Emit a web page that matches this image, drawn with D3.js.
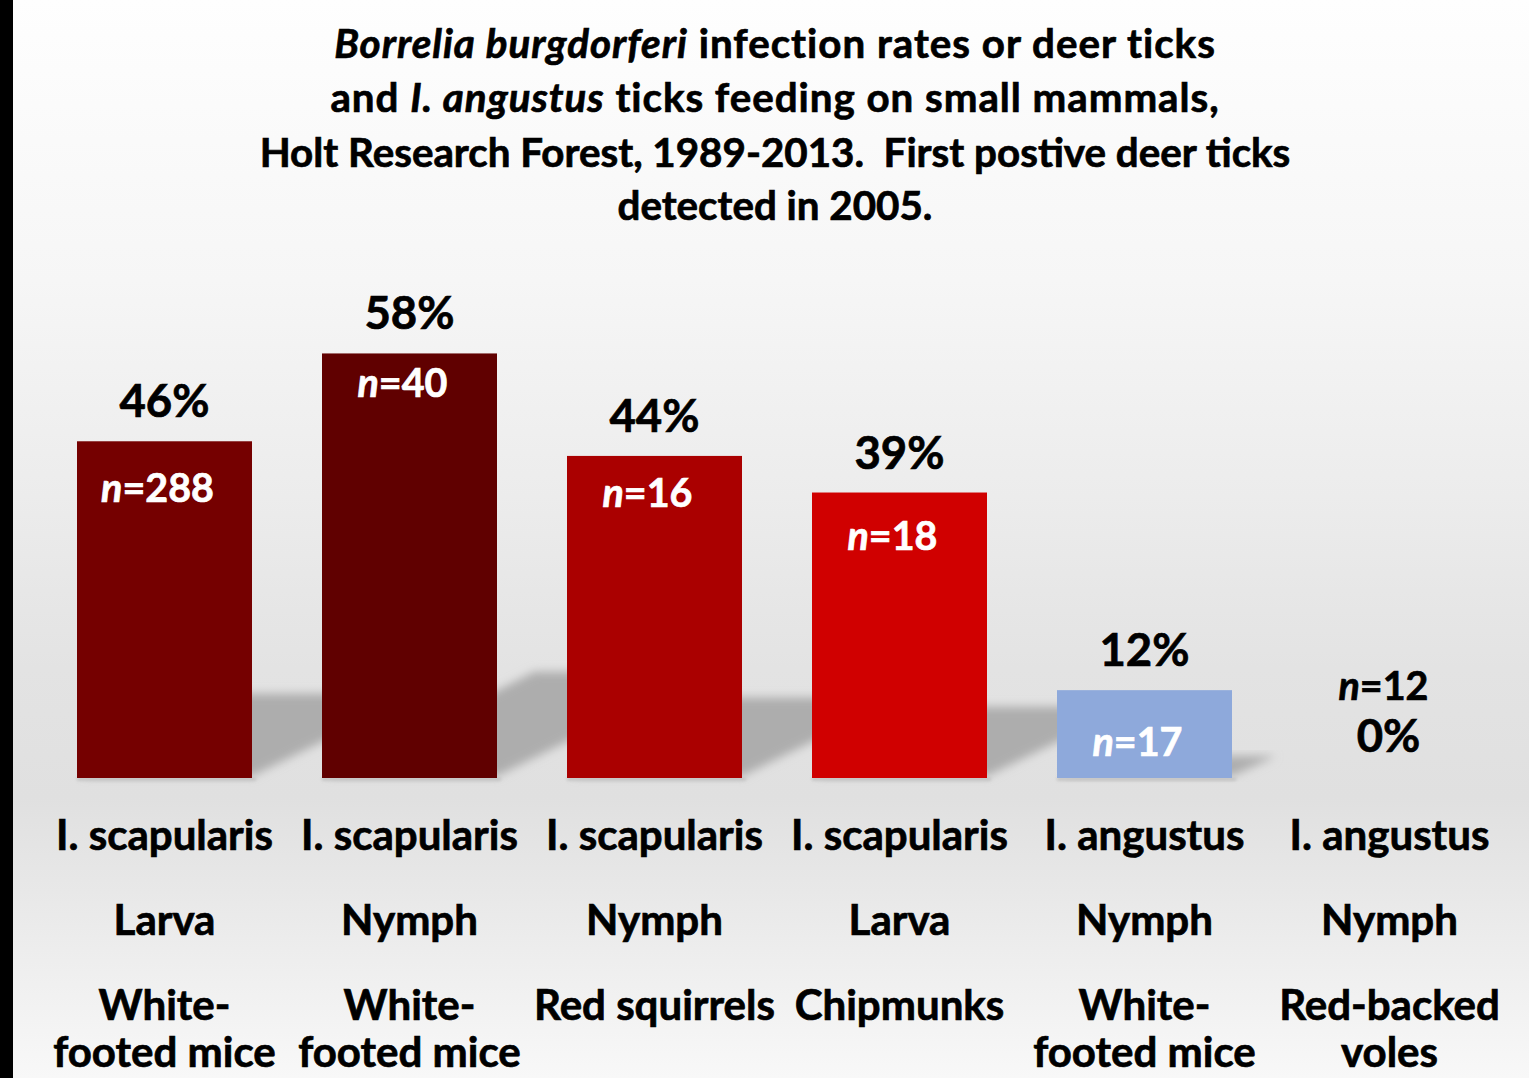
<!DOCTYPE html>
<html>
<head>
<meta charset="utf-8">
<script src="https://cdn.jsdelivr.net/npm/d3@7"></script>
<style>
  html, body { margin: 0; padding: 0; background: #fff; }
  svg { display: block; }
  text { font-family: Lato, "Open Sans", "DejaVu Sans", sans-serif; font-weight: bold; }
</style>
</head>
<body>
<svg id="chart" width="1529" height="1078"></svg>
<script>
// ---- data ----
const categories = ["I. scapularis Larva White-footed mice", "I. scapularis Nymph White-footed mice",
  "I. scapularis Nymph Red squirrels", "I. scapularis Larva Chipmunks",
  "I. angustus Nymph White-footed mice", "I. angustus Nymph Red-backed voles"];
const species = ["I. scapularis", "I. scapularis", "I. scapularis", "I. scapularis", "I. angustus", "I. angustus"];
const stages = ["Larva", "Nymph", "Nymph", "Larva", "Nymph", "Nymph"];
const hostLine1 = ["White-", "White-", "Red squirrels", "Chipmunks", "White-", "Red-backed"];
const hostLine2 = ["footed mice", "footed mice", "", "", "footed mice", "voles"];
const infectionRates = [46, 58, 44, 39, 12, 0];
const sampleSizes = [288, 40, 16, 18, 17, 12];
const barColors = ["#750000", "#600000", "#AA0000", "#D00000", "#8EA9DB", "#8EA9DB"];
// styling: vertical offset (px) of n-label baseline below the bar top
const nLabelOffsets = [61, 44, 51, 57, 66, 0];

const svg = d3.select("#chart");
const W = 1529, H = 1078;
const baseY = 778;

// ---- background ----
const defs = svg.append("defs");
const bg = defs.append("linearGradient").attr("id", "bg").attr("x1", 0).attr("y1", 0).attr("x2", 0).attr("y2", 1);
[[0, "#fefefe"], [0.26, "#f6f6f6"], [0.46, "#ececec"], [0.62, "#e3e3e3"], [0.74, "#e0e0e0"], [1, "#f8f8f8"]]
  .forEach(([o, c]) => bg.append("stop").attr("offset", o).attr("stop-color", c));
const blur = defs.append("filter").attr("id", "blur").attr("x", "-20%").attr("y", "-30%").attr("width", "140%").attr("height", "160%");
blur.append("feGaussianBlur").attr("stdDeviation", 5);
const blur2 = defs.append("filter").attr("id", "blur2").attr("x", "-20%").attr("y", "-200%").attr("width", "140%").attr("height", "500%");
blur2.append("feGaussianBlur").attr("stdDeviation", 1.5);

svg.append("rect").attr("width", W).attr("height", H).attr("fill", "url(#bg)");
svg.append("rect").attr("width", 13).attr("height", H).attr("fill", "#000");

// ---- scales ----
const x = d3.scaleBand().domain(categories).range([42, 1512]).paddingInner(70 / 245).paddingOuter(35 / 245);
const y = d3.scaleLinear().domain([0, 60]).range([baseY, baseY - 60 * 7.32]);

// ---- shadows ----
const shadowG = svg.append("g");
categories.forEach((c, i) => {
  const h = baseY - y(infectionRates[i]);
  if (h <= 0) return;
  const x0 = x(c), x1 = x(c) + x.bandwidth();
  const sh = 0.25 * h, shift = 0.5 * h;
  shadowG.append("polygon")
    .attr("points", [[x0 + 6, baseY - 2], [x1, baseY - 2], [x1 + shift, baseY - sh], [x0 + shift, baseY - sh]].map(p => p.join(",")).join(" "))
    .attr("fill", "#adadad").attr("filter", "url(#blur)");
  shadowG.append("rect").attr("x", x0).attr("y", baseY - 1).attr("width", x.bandwidth() + 4).attr("height", 4)
    .attr("fill", "#c6c6c6").attr("filter", "url(#blur2)");
});

// ---- bars ----
svg.append("g").selectAll("rect").data(categories).join("rect")
  .attr("x", d => x(d)).attr("width", x.bandwidth())
  .attr("y", (d, i) => y(infectionRates[i]))
  .attr("height", (d, i) => baseY - y(infectionRates[i]))
  .attr("fill", (d, i) => barColors[i]);

function fitSize(sel, size, target) {
  sel.attr("font-size", size);
  const w = sel.node().getComputedTextLength();
  return size * target / w;
}
function heavy(sel, color) {
  return sel.attr("fill", color).attr("stroke", color).attr("stroke-width", 0.7).attr("paint-order", "stroke");
}

// ---- percentage labels ----
const pctG = svg.append("g");
const probe = pctG.append("text").text("58%");
const pctSize = fitSize(probe, 50, 90);
probe.remove();
categories.forEach((c, i) => {
  const cx = x(c) + x.bandwidth() / 2;
  const v = infectionRates[i];
  const yy = v > 0 ? y(v) - 24 : baseY - 26;
  heavy(pctG.append("text").attr("x", cx + (v > 0 ? 0 : -1)).attr("y", yy).attr("text-anchor", "middle")
    .attr("font-size", pctSize), "#000").text(v + "%");
});

// ---- n labels ----
const nG = svg.append("g");
const nprobe = nG.append("text");
nprobe.append("tspan").attr("font-style", "italic").text("n");
nprobe.append("tspan").text("=40");
const nSize = fitSize(nprobe, 40, 90);
nprobe.remove();
categories.forEach((c, i) => {
  const cx = x(c) + x.bandwidth() / 2;
  const v = infectionRates[i];
  const t = nG.append("text").attr("text-anchor", "middle").attr("font-size", nSize);
  if (v > 0) {
    heavy(t.attr("x", cx - 7).attr("y", y(v) + nLabelOffsets[i]), "#fff");
  } else {
    heavy(t.attr("x", cx - 6).attr("y", baseY - 78), "#000");
  }
  t.append("tspan").attr("font-style", "italic").text("n");
  t.append("tspan").text("=" + sampleSizes[i]);
});

// ---- category labels ----
const catG = svg.append("g");
const cprobe = catG.append("text").text("I. scapularis");
const catSize = fitSize(cprobe, 38, 217);
cprobe.remove();
categories.forEach((c, i) => {
  const cx = x(c) + x.bandwidth() / 2;
  const rows = [[species[i], 850], [stages[i], 935], [hostLine1[i], 1020], [hostLine2[i], 1067]];
  rows.forEach(([txt, yy]) => {
    if (!txt) return;
    heavy(catG.append("text").attr("x", cx).attr("y", yy).attr("text-anchor", "middle")
      .attr("font-size", catSize), "#000").text(txt);
  });
});

// ---- title ----
const titleG = svg.append("g");
const titleLines = [
  [["Borrelia burgdorferi", true], [" infection rates or deer ticks", false]],
  [["and ", false], ["I. angustus", true], [" ticks feeding on small mammals,", false]],
  [["Holt Research Forest, 1989-2013.  First postive deer ticks", false]],
  [["detected in 2005.", false]]
];
const titleBaselines = [58, 112, 167, 220];
const titleWidths = [883, 890, 1031, 318];
const tprobe = titleG.append("text").attr("xml:space", "preserve").text(titleLines[2][0][0]);
const titleSize = fitSize(tprobe, 40, 1031);
tprobe.remove();
titleLines.forEach((parts, li) => {
  const t = titleG.append("text").attr("x", 775).attr("y", titleBaselines[li])
    .attr("text-anchor", "middle").attr("font-size", titleSize)
    .attr("xml:space", "preserve");
  heavy(t, "#000");
  parts.forEach(([s, it]) => t.append("tspan").attr("font-style", it ? "italic" : "normal").text(s));
  const w = t.node().getComputedTextLength();
  const n = parts.map(p => p[0]).join("").length;
  const ls = (titleWidths[li] - w) / n;
  if (Math.abs(ls) > 0.2) t.attr("letter-spacing", ls.toFixed(2));
});
</script>
</body>
</html>
